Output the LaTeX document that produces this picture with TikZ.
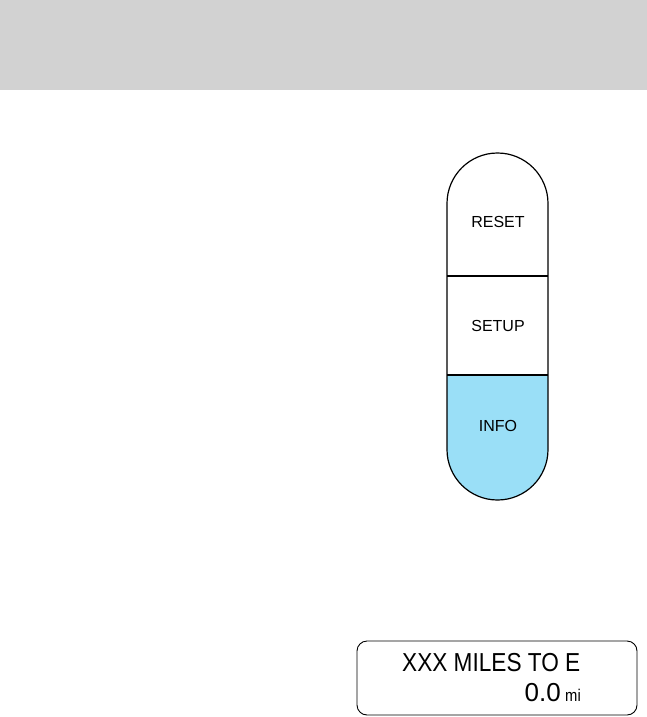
\documentclass[tikz,border=0pt]{standalone}
\usepackage{fontspec}
\setmainfont{Liberation Sans}
\newfontfamily\lcdfont[FakeStretch=0.87]{Liberation Sans}
\newfontfamily\lcdnum{Liberation Sans}
\definecolor{bandgray}{HTML}{D2D2D2}
\definecolor{infoblue}{HTML}{9ADFF7}
\tikzset{
  btnlabel/.style={font=\fontsize{16}{16}\selectfont, inner sep=0pt},
  outline/.style={draw=black, line width=1.2pt},
  lcdtext/.style={font=\lcdfont\fontsize{26}{26}\selectfont, inner sep=0pt}
}
\begin{document}
\begin{tikzpicture}[x=1pt,y=-1pt]
\useasboundingbox (0,0) rectangle (647,717);
\fill[bandgray] (0,0) rectangle (647,90);
% pill
\fill[infoblue] (447,375) -- (447,449.5) arc[start angle=180,end angle=0,radius=50.5] -- (548,375) -- cycle;
\draw[outline] (447,276) -- (548,276);
\draw[outline] (447,375) -- (548,375);
\draw[outline] (447,203.5) arc[start angle=180,end angle=360,radius=50.5] -- (548,449.5) arc[start angle=0,end angle=180,radius=50.5] -- cycle;
\node[btnlabel] (reset) at (498,222) {RESET};
\node[btnlabel] (setup) at (498,326) {SETUP};
\node[btnlabel] (info) at (498,426) {INFO};
% display
\draw[line width=0.9pt, rounded corners=10pt] (357,641) rectangle (637,715);
\node[lcdtext, anchor=base west] (line1) at (402,671) {XXX MILES TO E};
\node[font=\lcdnum\fontsize{26}{26}\selectfont, inner sep=0pt, anchor=base east] (num) at (561,701) {0.0};
\node[font=\lcdfont\fontsize{17}{17}\selectfont, inner sep=0pt, anchor=base west] (unit) at (565,701) {mi};
\end{tikzpicture}
\end{document}
